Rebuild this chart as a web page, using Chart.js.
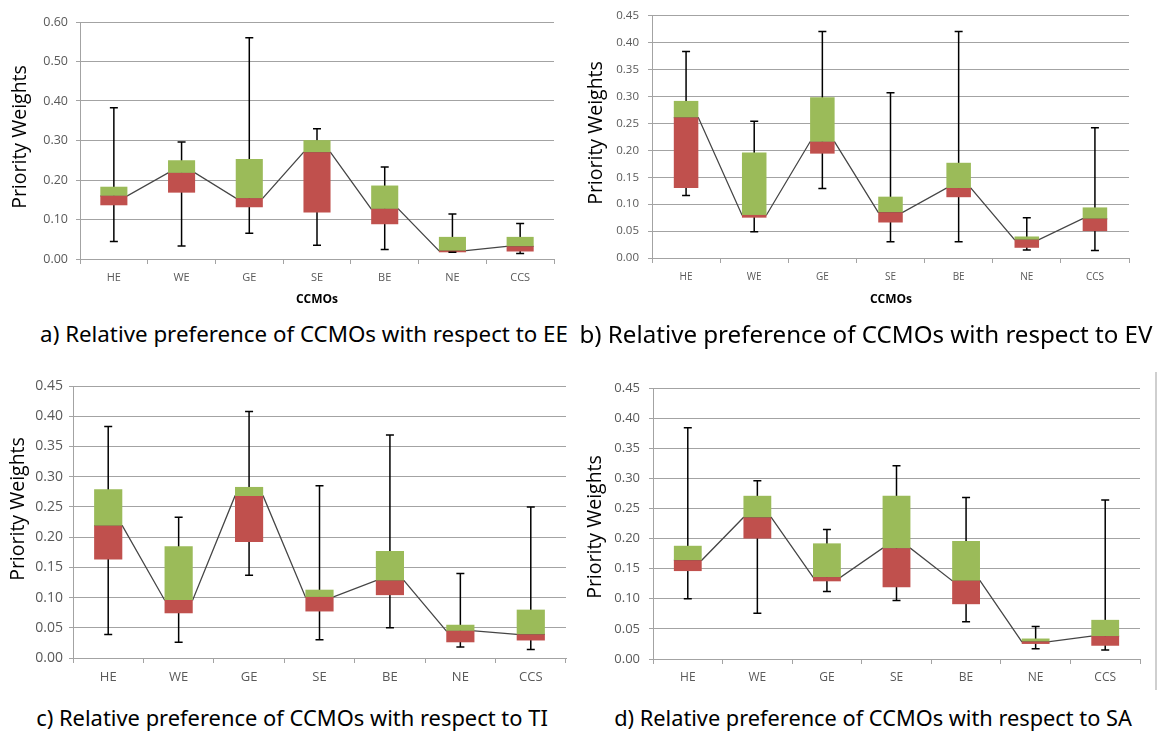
<!DOCTYPE html>
<html>
<head>
<meta charset="utf-8">
<script src="https://cdn.jsdelivr.net/npm/chart.js@4.4.1/dist/chart.umd.min.js"></script>
<style>
  body { margin: 0; background: #fff; width: 1158px; height: 733px; position: relative; overflow: hidden; font-family: "Open Sans", sans-serif; }
  .panel { position: absolute; }
  .ytitle { position: absolute; transform: translate(-50%, -50%) rotate(-90deg); white-space: nowrap; font-size: 19.5px; color: #000; }
  .xtitle { position: absolute; transform: translate(-50%, -50%); white-space: nowrap; font-weight: bold; font-size: 12px; color: #000; }
  .caption { position: absolute; transform: translate(-50%, -50%); white-space: nowrap; font-family: "Noto Sans", sans-serif; font-size: 19px; color: #000; }
  .edge { position: absolute; left: 1155px; top: 372px; width: 2px; height: 318px; background: #cfcfcf; }
</style>
</head>
<body>

<div class="panel" style="left:0px;top:0px;width:560px;height:310px"><canvas id="chartA"></canvas></div>
<div class="panel" style="left:575px;top:0px;width:560px;height:310px"><canvas id="chartB"></canvas></div>
<div class="panel" style="left:0px;top:370px;width:572px;height:330px"><canvas id="chartC"></canvas></div>
<div class="panel" style="left:575px;top:370px;width:571px;height:330px"><canvas id="chartD"></canvas></div>

<div class="ytitle" style="left:18px;top:137px">Priority Weights</div>
<div class="ytitle" style="left:594px;top:133px">Priority Weights</div>
<div class="ytitle" style="left:16px;top:509px">Priority Weights</div>
<div class="ytitle" style="left:593px;top:527px">Priority Weights</div>

<div class="xtitle" style="left:317px;top:298px">CCMOs</div>
<div class="xtitle" style="left:891px;top:298px">CCMOs</div>

<div class="caption" data-w="528" style="left:304px;top:333px">a) Relative preference of CCMOs with respect to EE</div>
<div class="caption" data-w="573" style="left:866px;top:333px">b) Relative preference of CCMOs with respect to EV</div>
<div class="caption" data-w="512" style="left:292px;top:717px">c) Relative preference of CCMOs with respect to TI</div>
<div class="caption" data-w="518" style="left:873px;top:717px">d) Relative preference of CCMOs with respect to SA</div>

<div class="edge"></div>

<script>
// categories (CCMOs)
const categories = ['HE', 'WE', 'GE', 'SE', 'BE', 'NE', 'CCS'];

// y axis tick values
const yTicksA = [0, 0.1, 0.2, 0.3, 0.4, 0.5, 0.6];
const yTicksB = [0, 0.05, 0.1, 0.15, 0.2, 0.25, 0.3, 0.35, 0.4, 0.45];

// a) EE
const minEE = [0.044, 0.033, 0.065, 0.035, 0.024, 0.017, 0.014];
const q1EE  = [0.136, 0.168, 0.131, 0.118, 0.088, 0.017, 0.019];
const medEE = [0.160, 0.218, 0.154, 0.270, 0.127, 0.021, 0.032];
const q3EE  = [0.183, 0.250, 0.253, 0.301, 0.186, 0.056, 0.056];
const maxEE = [0.383, 0.296, 0.560, 0.330, 0.233, 0.114, 0.090];

// b) EV
const minEV = [0.116, 0.049, 0.129, 0.030, 0.030, 0.015, 0.014];
const q1EV  = [0.130, 0.075, 0.194, 0.066, 0.113, 0.019, 0.050];
const medEV = [0.261, 0.080, 0.216, 0.085, 0.130, 0.034, 0.073];
const q3EV  = [0.292, 0.196, 0.299, 0.114, 0.177, 0.040, 0.094];
const maxEV = [0.384, 0.254, 0.421, 0.307, 0.421, 0.075, 0.242];

// c) TI
const minTI = [0.039, 0.026, 0.137, 0.030, 0.050, 0.018, 0.014];
const q1TI  = [0.163, 0.074, 0.192, 0.077, 0.104, 0.026, 0.029];
const medTI = [0.219, 0.096, 0.268, 0.101, 0.128, 0.045, 0.039];
const q3TI  = [0.279, 0.185, 0.283, 0.113, 0.177, 0.055, 0.080];
const maxTI = [0.383, 0.233, 0.408, 0.285, 0.369, 0.140, 0.250];

// d) SA
const minSA = [0.100, 0.076, 0.112, 0.097, 0.062, 0.017, 0.015];
const q1SA  = [0.146, 0.200, 0.129, 0.119, 0.091, 0.025, 0.022];
const medSA = [0.164, 0.235, 0.136, 0.184, 0.130, 0.029, 0.038];
const q3SA  = [0.188, 0.271, 0.192, 0.271, 0.196, 0.034, 0.065];
const maxSA = [0.384, 0.296, 0.215, 0.321, 0.268, 0.054, 0.264];

const GREEN = '#9BBB59';
const RED = '#C0504D';
const GRID = '#a3a3a3';
const LABEL = '#595959';

function drawPanel(id, d, s) {
  const half = s.box / 2;
  // median line runs box edge to box edge
  const medLine = [];
  d.med.forEach((m, i) => { medLine.push({ x: i - half, y: m }, { x: i + half, y: m }); });
  const last = d.ticks[d.ticks.length - 1];

  new Chart(document.getElementById(id), {
    type: 'bar',
    data: {
      labels: categories,
      datasets: [
        { type: 'line', data: d.max, showLine: false, pointStyle: 'line', pointRadius: 4, pointBorderWidth: 1.5, pointBorderColor: '#000', borderColor: '#000', order: 0 },
        { type: 'line', data: d.min, showLine: false, pointStyle: 'line', pointRadius: 4, pointBorderWidth: 1.5, pointBorderColor: '#000', borderColor: '#000', order: 0 },
        { data: d.q1.map((v, i) => [v, d.med[i]]), backgroundColor: RED, grouped: false, barPercentage: s.box, categoryPercentage: 1, order: 1 },
        { data: d.med.map((v, i) => [v, d.q3[i]]), backgroundColor: GREEN, grouped: false, barPercentage: s.box, categoryPercentage: 1, order: 1 },
        { type: 'line', xAxisID: 'xl', data: medLine, borderColor: '#454545', borderWidth: 1.3, pointRadius: 0, order: 2 },
        { data: d.min.map((v, i) => [v, d.max[i]]), backgroundColor: '#000', grouped: false, maxBarThickness: 1.5, order: 3 }
      ]
    },
    options: {
      responsive: true,
      maintainAspectRatio: false,
      animation: false,
      events: [],
      layout: { padding: { left: 0, top: s.padTop, right: s.padRight, bottom: 0 } },
      plugins: { legend: { display: false }, tooltip: { enabled: false } },
      scales: {
        x: {
          type: 'category',
          offset: true,
          afterFit: sc => { sc.height = s.xHeight; },
          grid: { offset: true, drawOnChartArea: false, drawTicks: true, tickLength: 5, color: GRID },
          border: { display: true, color: GRID, width: 1 },
          ticks: { color: LABEL, padding: s.xPad, font: { family: 'Open Sans', size: s.xFont } }
        },
        xl: { type: 'linear', display: false, offset: false, min: -0.5, max: categories.length - 0.5 },
        y: {
          type: 'linear',
          stacked: false,
          min: 0,
          max: last,
          afterFit: sc => { sc.width = s.yWidth; },
          afterBuildTicks: sc => { sc.ticks = d.ticks.map(v => ({ value: v })); },
          grid: { color: GRID, tickLength: 4, lineWidth: 1 },
          border: { display: true, color: GRID, width: 1 },
          ticks: { color: LABEL, padding: s.yPad, font: { family: 'Open Sans', size: s.yFont }, callback: v => Number(v).toFixed(2) }
        }
      }
    }
  });
}

drawPanel('chartA', { min: minEE, q1: q1EE, med: medEE, q3: q3EE, max: maxEE, ticks: yTicksA },
  { box: 0.4, padTop: 22, padRight: 6, yWidth: 80, xHeight: 51, xPad: 7, xFont: 11, yPad: 8, yFont: 12.5 });
drawPanel('chartB', { min: minEV, q1: q1EV, med: medEV, q3: q3EV, max: maxEV, ticks: yTicksB },
  { box: 0.36, padTop: 13, padRight: 6, yWidth: 77, xHeight: 52, xPad: 8, xFont: 10, yPad: 9, yFont: 11.5 });
drawPanel('chartC', { min: minTI, q1: q1TI, med: medTI, q3: q3TI, max: maxTI, ticks: yTicksB },
  { box: 0.4, padTop: 16, padRight: 6, yWidth: 73, xHeight: 42, xPad: 6, xFont: 13, yPad: 6, yFont: 14 });
drawPanel('chartD', { min: minSA, q1: q1SA, med: medSA, q3: q3SA, max: maxSA, ticks: yTicksB },
  { box: 0.4, padTop: 18, padRight: 6, yWidth: 78, xHeight: 41, xPad: 6, xFont: 12, yPad: 9, yFont: 13 });

// fit caption text to the measured widths
const mctx = document.createElement('canvas').getContext('2d');
document.querySelectorAll('.caption').forEach(el => {
  mctx.font = '20px "Noto Sans"';
  const w = mctx.measureText(el.textContent).width;
  el.style.fontSize = (20 * Number(el.dataset.w) / w).toFixed(2) + 'px';
});
</script>
</body>
</html>
